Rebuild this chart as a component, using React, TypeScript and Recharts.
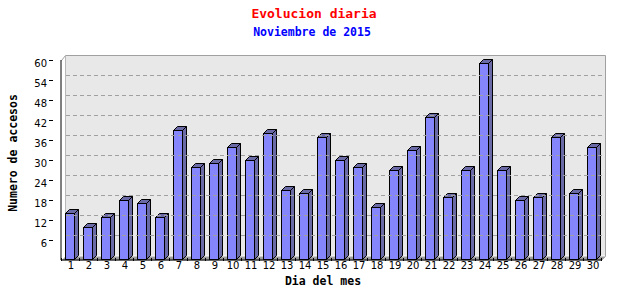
import { Bar, BarChart, ReferenceArea, ReferenceLine, XAxis, YAxis } from "recharts";

const dias = [
  "1", "2", "3", "4", "5", "6", "7", "8", "9", "10",
  "11", "12", "13", "14", "15", "16", "17", "18", "19", "20",
  "21", "22", "23", "24", "25", "26", "27", "28", "29", "30",
];
const accesos = [
  14, 10, 13, 18, 17, 13, 39, 28, 29, 34,
  30, 38, 21, 20, 37, 30, 28, 16, 27, 33,
  43, 19, 27, 59, 27, 18, 19, 37, 20, 34,
];
const yTicks = [6, 12, 18, 24, 30, 36, 42, 48, 54, 60];
const gridValues = [6, 12, 18, 24, 30, 36, 42, 48, 54];

const data = dias.map((dia, i) => ({ dia, accesos: accesos[i] }));

// 3d depth of bars and back wall
const DX = 4;
const DY = 4;
const FONT = "'DejaVu Sans', sans-serif";
const MONO = "'DejaVu Sans Mono', monospace";

function Bar3D(props: any) {
  const { x, y, width, height } = props;
  if (height == null || height <= 0) return null;
  const x0 = Math.round(x) - 0.5;
  const x1 = x0 + Math.round(width);
  const y0 = Math.round(y) + 0.5;
  const y1 = Math.round(y + height) - 0.5;
  return (
    <g stroke="#000" strokeWidth={1}>
      <polygon
        points={`${x1},${y0} ${x1 + DX},${y0 - DY} ${x1 + DX},${y1 - DY} ${x1},${y1}`}
        fill="#6a6aa6"
      />
      <polygon
        points={`${x0},${y0} ${x0 + DX},${y0 - DY} ${x1 + DX},${y0 - DY} ${x1},${y0}`}
        fill="#6a6aa6"
      />
      <rect x={x0} y={y0} width={x1 - x0} height={y1 - y0} fill="#8686fc" />
    </g>
  );
}

function Wall(props: any) {
  const { x, y, width, height } = props;
  const l = Math.round(x) + 0.5;
  const t = Math.round(y) + 0.5;
  const r = l + Math.round(width);
  const b = t + Math.round(height);
  return (
    <g>
      <rect x={l + DX} y={t - DY - 1} width={r - l} height={b - t} fill="#e8e8e8" />
      <polygon
        points={`${l},${b} ${l + DX},${b - DY} ${r + DX},${b - DY} ${r},${b}`}
        fill="#9c9c9c"
      />
      <polyline
        points={`${l},${t} ${l + DX},${t - DY - 1} ${r + DX},${t - DY - 1} ${r + DX},${b - DY} ${r},${b}`}
        fill="none"
        stroke="#a0a0a0"
      />
      <line x1={l + DX} y1={t - DY - 1} x2={l + DX} y2={b - DY} stroke="#b8b8b8" />
    </g>
  );
}

function GridLine(p: any) {
  const y = Math.round(p.y1) - DY - 0.5;
  return (
    <line
      x1={p.x1 + DX + 1}
      y1={y}
      x2={p.x2 + DX}
      y2={y}
      stroke="#a0a0a0"
      strokeDasharray="4 3"
    />
  );
}

function YTick(props: any) {
  const { x, y, payload } = props;
  return (
    <g>
      <line x1={x + 2} y1={Math.round(y) + 0.5} x2={x + 6} y2={Math.round(y) + 0.5} stroke="#000" />
      <text x={x} y={y + 3} dy="0.355em" textAnchor="end" fontSize={10} fontFamily={FONT} fill="#000">
        {payload.value}
      </text>
    </g>
  );
}

function XTick(props: any) {
  const { x, y, payload, index } = props;
  const half = payload.offset || 9;
  const top = Math.round(y) - 16;
  return (
    <g stroke="#000">
      <line x1={Math.round(x + half) + 0.5} y1={top} x2={Math.round(x + half) + 0.5} y2={top + 3} />
      {index === 0 && (
        <line x1={Math.round(x - half) + 0.5} y1={top} x2={Math.round(x - half) + 0.5} y2={top + 3} />
      )}
      <text
        x={x + 1}
        y={y - 12}
        dy="0.71em"
        textAnchor="middle"
        fontSize={10}
        fontFamily={FONT}
        fill="#000"
        stroke="none"
      >
        {payload.value}
      </text>
    </g>
  );
}

export default function App() {
  return (
    <div style={{ position: "absolute", left: 0, top: 0, width: 640, height: 300, background: "#fff" }}>
      <div
        style={{
          position: "absolute", left: 0, width: 628, top: 5, textAlign: "center",
          fontFamily: MONO, fontSize: 13, fontWeight: "bold", lineHeight: "18px", color: "#ff0000",
        }}
      >
        Evolucion diaria
      </div>
      <div
        style={{
          position: "absolute", left: 0, width: 624, top: 24, textAlign: "center",
          fontFamily: MONO, fontSize: 11.5, fontWeight: "bold", lineHeight: "16px", color: "#0000ff",
        }}
      >
        Noviembre de 2015
      </div>
      <div
        style={{
          position: "absolute", left: 13 - 80, top: 153 - 8, width: 160, textAlign: "center",
          fontFamily: MONO, fontSize: 11.5, fontWeight: "bold", lineHeight: "16px", color: "#000",
          transform: "rotate(-90deg)",
        }}
      >
        Numero de accesos
      </div>
      <div
        style={{
          position: "absolute", left: 323 - 80, top: 281 - 8, width: 160, textAlign: "center",
          fontFamily: MONO, fontSize: 11.5, fontWeight: "bold", lineHeight: "16px", color: "#000",
        }}
      >
        Dia del mes
      </div>
      <BarChart
        width={640}
        height={300}
        data={data}
        margin={{ top: 60, right: 39, bottom: 0, left: 0 }}
        barSize={9}
        barCategoryGap={0}
        style={{ position: "absolute", left: 0, top: 0 }}
      >
        <ReferenceArea y1={0} y2={60} shape={<Wall />} ifOverflow="visible" />
        {gridValues.map((v) => (
          <ReferenceLine key={v} y={v} shape={GridLine} ifOverflow="visible" />
        ))}
        <XAxis
          dataKey="dia"
          height={40}
          interval={0}
          tickLine={false}
          axisLine={{ stroke: "#000" }}
          tick={<XTick />}
          tickMargin={8}
        />
        <YAxis
          width={61}
          domain={[0, 60]}
          ticks={yTicks}
          interval={0}
          tickLine={false}
          axisLine={{ stroke: "#000" }}
          tick={<YTick />}
          tickMargin={8}
        />
        <Bar dataKey="accesos" shape={<Bar3D />} isAnimationActive={false} />
      </BarChart>
    </div>
  );
}
